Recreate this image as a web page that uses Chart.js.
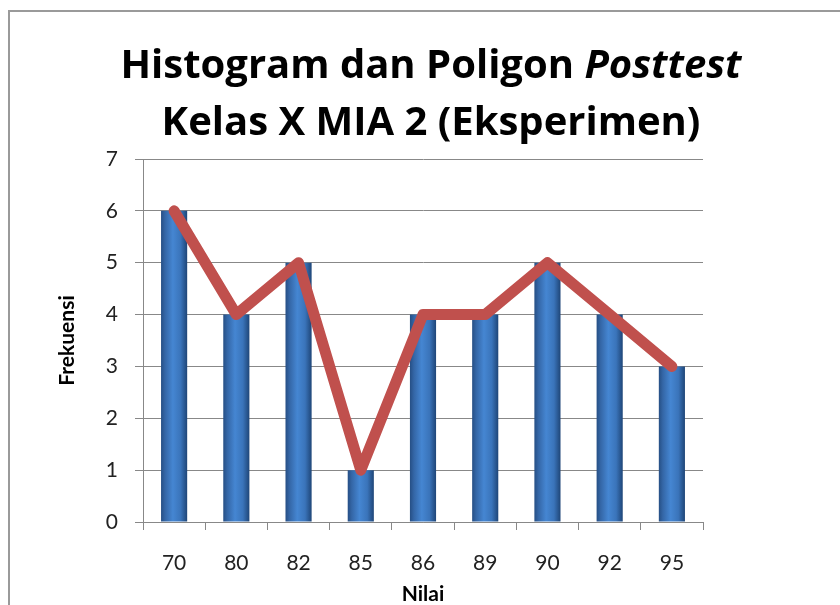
<!DOCTYPE html>
<html>
<head>
<meta charset="utf-8">
<script src="https://cdn.jsdelivr.net/npm/chart.js@4"></script>
<style>
    body { margin: 0; background: #fff; }
    #wrap { position: relative; width: 840px; height: 605px; overflow: hidden; }
    #frame { position: absolute; left: 8px; top: 10px; width: 900px; height: 700px; border: 2px solid #9a9a9a; }
    #title { position: absolute; left: 0; top: 34px; width: 862px; text-align: center;
             font-family: "Open Sans", sans-serif; font-weight: bold; font-size: 40px; line-height: 57px; color: #000; }
    #chart { position: absolute; left: 0; top: 0; }
</style>
</head>
<body>
<div id="wrap">
    <div id="frame"></div>
    <canvas id="chart" width="840" height="605"></canvas>
    <div id="title">Histogram dan Poligon <i>Posttest</i><br>Kelas X MIA 2 (Eksperimen)</div>
</div>
<script>
    // data nilai posttest
    const nilai = ['70', '80', '82', '85', '86', '89', '90', '92', '95'];
    const frekuensi = [6, 4, 5, 1, 4, 4, 5, 4, 3];
    const yTicks = [0, 1, 2, 3, 4, 5, 6, 7];

    const ctx = document.getElementById('chart').getContext('2d');

    // gradasi biru untuk tiap batang
    function barGradient(context) {
        const chart = context.chart;
        const xScale = chart.scales.x;
        if (!xScale || context.dataIndex === undefined) return '#3f76b8';
        const cx = xScale.getPixelForValue(context.dataIndex);
        if (!isFinite(cx)) return '#3f76b8';
        const half = 13;
        const g = chart.ctx.createLinearGradient(cx - half, 0, cx + half, 0);
        g.addColorStop(0, '#264f85');
        g.addColorStop(0.15, '#3466a6');
        g.addColorStop(0.45, '#4586d2');
        g.addColorStop(0.75, '#3a74ba');
        g.addColorStop(1, '#1f4678');
        return g;
    }

    new Chart(ctx, {
        data: {
            labels: nilai,
            datasets: [{
                type: 'line',
                label: 'Poligon',
                data: frekuensi,
                borderColor: '#c0504d',
                borderWidth: 11,
                borderCapStyle: 'round',
                borderJoinStyle: 'round',
                pointRadius: 0,
                tension: 0,
                order: 1
            }, {
                type: 'bar',
                label: 'Histogram',
                data: frekuensi,
                backgroundColor: barGradient,
                borderWidth: 0,
                barPercentage: 0.42,
                categoryPercentage: 1,
                order: 2
            }]
        },
        options: {
            responsive: false,
            animation: false,
            layout: { padding: { left: 0, right: 137, top: 159, bottom: 0 } },
            plugins: {
                legend: { display: false },
                tooltip: { enabled: false }
            },
            scales: {
                x: {
                    offset: true,
                    grid: {
                        offset: true,
                        drawOnChartArea: false,
                        drawTicks: true,
                        tickLength: 8,
                        color: '#888'
                    },
                    border: { color: '#888', width: 1 },
                    ticks: {
                        color: '#222',
                        font: { family: 'Lato', size: 21 },
                        padding: 21
                    },
                    title: {
                        display: true,
                        text: 'Nilai',
                        color: '#000',
                        font: { family: 'Lato', size: 21, weight: 'bold' },
                        padding: { top: 0, bottom: -2 }
                    },
                    afterFit: s => { s.height = 83; }
                },
                y: {
                    min: 0,
                    max: 7,
                    afterBuildTicks: s => { s.ticks = yTicks.map(v => ({ value: v })); },
                    grid: {
                        color: '#888',
                        tickLength: 8,
                        lineWidth: 1
                    },
                    border: { color: '#888', width: 1 },
                    ticks: {
                        color: '#222',
                        font: { family: 'Lato', size: 21 },
                        padding: 17
                    },
                    title: {
                        display: true,
                        text: 'Frekuensi',
                        color: '#000',
                        font: { family: 'Lato', size: 21, weight: 'bold' },
                        padding: { top: 55, bottom: 0 }
                    },
                    afterFit: s => { s.width = 143; }
                }
            }
        }
    });
</script>
</body>
</html>
